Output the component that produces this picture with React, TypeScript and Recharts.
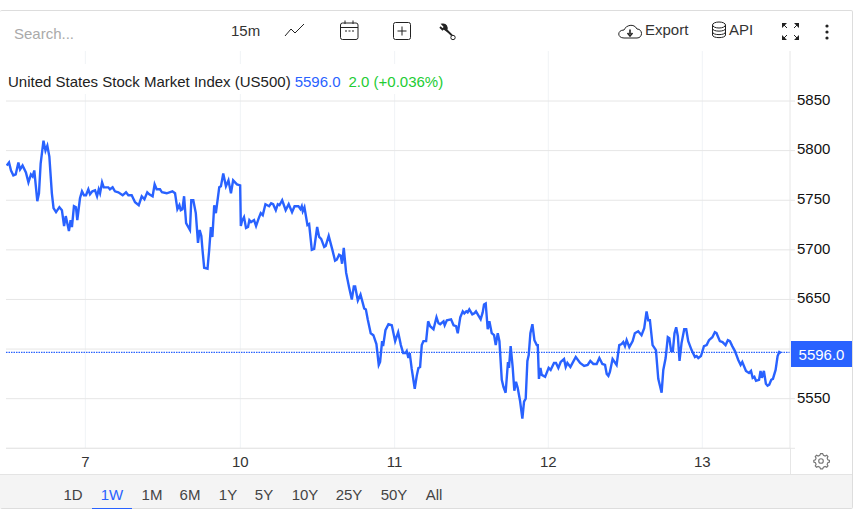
import React from "react";
import { LineChart, Line, XAxis, YAxis, CartesianGrid, ReferenceLine } from "recharts";

// Positions on the time axis are 15-minute bars counted from the start of the "7" session.
const sessionPrior: [number, number][] = [
  [-47,5785],[-45.6,5788],[-44.4,5780],[-43,5775],[-41.6,5776],[-40,5788],[-39,5781],[-37.5,5785],[-35.5,5778],[-34,5768],[-32.5,5776],[-31.5,5774],[-30.5,5780],[-28.7,5749],[-27.7,5757],[-26.7,5787],[-25,5810],[-23.8,5800],[-22.7,5805],[-21.5,5794],[-20,5757],[-19,5742],[-17.5,5738],[-15.5,5743],[-14,5740],[-12.7,5724],[-11.7,5734],[-9.8,5719],[-8.8,5730],[-8,5723],[-6.8,5744],[-5.6,5743],[-4.8,5730],[-3.2,5752],[-2,5759],[-0.8,5755],
];
const session7: [number, number][] = [
  [0.4,5755],[1.8,5761],[2.8,5756],[4.2,5759],[5.8,5760],[7,5754],[8,5761],[8.8,5757],[10,5768],[11,5763],[13.7,5763],[14.7,5761],[16.3,5763],[17.7,5759],[19.7,5758],[22.3,5755],[24.3,5758],[25.7,5755],[27.7,5755],[29.7,5748],[31.9,5745],[33.7,5754],[35.3,5751],[37,5758],[38.2,5756],[40.2,5754],[41.4,5766],[42.6,5761],[44.6,5761],[45.8,5758],[48.6,5757],[52,5759],[53.6,5757],[55,5741],[56.2,5745],[57,5740],[58,5741],[59,5754],[60.2,5727],[62.5,5720],[63.3,5750],[64.5,5750],[66,5737],[67.3,5707],[68.3,5720],[69.3,5714],[70,5700],[71,5682],[73,5681],[74,5700],[75,5723],[75.9,5713],[77,5745],[78,5737],[80,5763],[81,5764],[82.4,5777],[84,5764],[85.5,5770],[87,5757],[88.3,5770],[90.6,5766],
];
const session10: [number, number][] = [
  [92.5,5765],[92.9,5724],[93.6,5729],[94.8,5733],[96,5722],[97.2,5723],[98,5730],[99,5728],[100.8,5730],[102,5724],[103.4,5731],[104.8,5737],[106,5735],[107.6,5746],[109.8,5744],[111,5747],[112.2,5746],[113.8,5740],[115,5746],[116,5745],[117.6,5750],[119.7,5740],[121.5,5746],[123.5,5738],[125,5744],[127.3,5744],[128.5,5741],[129.3,5744],[129.9,5739],[130.9,5743],[132.7,5725],[133.7,5726],[135.3,5700],[136.7,5701],[138.5,5723],[139.7,5713],[140.9,5711],[142.7,5703],[143.6,5704],[145.4,5714],[147.6,5700],[149.2,5689],[150.2,5690],[151.6,5695],[152.6,5694],[153.4,5686],[154.4,5702],[155.8,5677],[157.6,5662],[159.2,5650],[160.4,5663],[161.2,5663],[162.8,5649],[164.4,5655],[166.6,5641],[167.6,5640],[168.7,5630],[170.5,5616],[172.1,5614],[173.9,5605],[175.3,5584],[176.1,5587],[177.3,5608],[177.9,5603],[179.3,5619],[181.1,5625],[183.1,5624],
];
const session11: [number, number][] = [
  [185.1,5608],[186.9,5617],[188.5,5604],[189.9,5596],[191.3,5596],[192,5598],[193,5591],[193.8,5596],[195,5580],[196.8,5560],[198,5573],[199,5581],[200,5582],[201,5604],[202,5608],[203.6,5608],[204.8,5628],[206,5623],[208,5620],[209.8,5632],[211,5626],[212,5625],[214,5628],[214.7,5624],[216,5629],[218.5,5630],[220,5624],[221.5,5623],[222.5,5616],[224,5632],[225.5,5638],[226.4,5636],[227.6,5638],[228.4,5637],[229.4,5640],[231.2,5635],[232.4,5636],[233.4,5638],[234.8,5634],[236.2,5630],[237.4,5637],[238.2,5645],[239.2,5646],[240.4,5620],[241.4,5628],[242.8,5616],[244.2,5614],[245.2,5604],[246.4,5616],[247.4,5608],[248.8,5569],[249.8,5562],[251.1,5556],[252.5,5587],[253.1,5581],[254.1,5603],[255.3,5582],[256.3,5558],[257.3,5567],[258.3,5561],[259.7,5548],[261.1,5530],[262.1,5547],[263.1,5550],[264.1,5588],[264.9,5594],[265.9,5616],[267.1,5625],[268.3,5609],[269.7,5604],[270.3,5604],[271,5570],[271.9,5581],[272.7,5574],[274.7,5572],
];
const session12: [number, number][] = [
  [276.8,5581],[278,5579],[280,5586],[281.2,5586],[282.6,5581],[284,5587],[286,5590],[287,5582],[288,5586],[289.8,5582],[293,5592],[295.6,5586],[298,5583],[300.1,5584],[301.7,5588],[303.5,5585],[305.5,5585],[307.1,5591],[308.9,5585],[310.5,5584],[311.5,5575],[312.5,5573],[313.4,5577],[315,5590],[317.4,5584],[319,5604],[320.4,5605],[321.4,5607],[322.4,5603],[323.4,5609],[325,5602],[327,5608],[328.3,5616],[330.3,5618],[332.3,5614],[333.9,5621],[335.3,5638],[336.3,5629],[337.3,5629],[338.9,5604],[340.9,5599],[342.3,5570],[344.3,5556],[345.3,5579],[346.7,5591],[348,5612],[348.9,5611],[350,5598],[351,5598],[352,5616],[353,5622],[354,5613],[355,5588],[356.2,5606],[357.8,5620],[359,5620],[360.2,5608],[362.2,5599],[364.2,5592],[365.2,5593],[366.2,5591],
];
const session13: [number, number][] = [
  [367.8,5593],[369.6,5603],[371.2,5604],[372.6,5609],[374.6,5612],[376.1,5617],[377.1,5616],[379.1,5608],[380.7,5607],[382.5,5604],[383.9,5609],[385.1,5608],[386.5,5603],[388.1,5598],[390.1,5589],[391.5,5584],[392.5,5587],[394.7,5578],[396.5,5576],[397.7,5578],[398.7,5571],[399.7,5572],[400.7,5568],[402.5,5569],[403.4,5578],[404.2,5571],[405.4,5578],[406.6,5565],[407.6,5563],[408.6,5564],[409.8,5569],[410.8,5570],[412.4,5579],[413.6,5593],[414.6,5597],[415.6,5596],
];

const dayTicks = [0, 92.6, 184.8, 276.6, 368.6];
const dayLabels = ["7", "10", "11", "12", "13"];
const priceTicks = [5500, 5550, 5600, 5650, 5700, 5750, 5800, 5850];
const hiddenPriceLabels = [5500, 5600];
const rangeLabels = ["1D", "1W", "1M", "6M", "1Y", "5Y", "10Y", "25Y", "50Y", "All"];
const lastPrice = 5596.0;

const rows = [...sessionPrior, ...session7, ...session10, ...session11, ...session12, ...session13].map(
  ([bar, price]) => ({ bar, price })
);

const FONT = '"Liberation Sans", Arial, sans-serif';
const BLUE = "#2962ff";
const rangeX = [73, 112, 152, 190, 228, 264, 305, 349, 394, 434];

const abs = (s: React.CSSProperties): React.CSSProperties => ({ position: "absolute", whiteSpace: "nowrap", ...s });

function Label({ x, y, children, color = "#333", size = 15 }: any) {
  return <span style={abs({ left: x, top: y, fontSize: size, color, lineHeight: "18px" })}>{children}</span>;
}

function Icons() {
  const s = { fill: "none", stroke: "#222", strokeWidth: 1 } as const;
  return (
    <svg width={862} height={516} style={{ position: "absolute", left: 0, top: 0, pointerEvents: "none" }}>
      <path d="M285 36 L291 29 L295 33 L304 24" {...s} />
      <rect x={340.5} y={23} width={17.5} height={16.5} rx={2} {...s} />
      <path d="M340.5 27.5 H358 M345 20.5 V24 M353 20.5 V24" {...s} />
      <path d="M345 31 h2 M348.5 31 h2 M352 31 h2" stroke="#222" strokeWidth={1.2} />
      <rect x={393.5} y={22.5} width={17} height={17} rx={2} {...s} />
      <path d="M402 26.5 V35.5 M397.5 31 H406.5" {...s} />
      <path d="M440 27 L442.500 29.500 L445 27 L442.500 24.500 C446 24 447.500 27 446.500 30 L452 35.500" fill="#222" stroke="#222" strokeWidth={1.8} />
      <circle cx={453} cy={37.5} r={2.2} fill="#fff" stroke="#222" strokeWidth={1} />
      <path d="M624 38 C617 38 617 30 624 30 C626 25 634 23 637 29 C643 29 643 38 637 38 Z" {...s} />
      <path d="M630 29.5 V34 M627.5 33 L630 36 L632.5 33" fill="none" stroke="#222" strokeWidth={1.6} />
      <ellipse cx={719} cy={25} rx={6.5} ry={3} {...s} />
      <path d="M712.5 25 V35 C712.5 38.5 725.5 38.5 725.5 35 V25 M712.5 28.5 C712.5 32 725.5 32 725.5 28.5 M712.5 32 C712.5 35.5 725.5 35.5 725.5 32" {...s} />
      <path d="M782 23 h5 l-5 5 z M799 23 h-5 l5 5 z M782 40 h5 l-5 -5 z M799 40 h-5 l5 -5 z" fill="#222" />
      <path d="M783 24 L787 28 M798 24 L794 28 M783 39 L787 35 M798 39 L794 35" {...s} />
      <circle cx={827} cy={26} r={1.6} fill="#222" />
      <circle cx={827} cy={32} r={1.6} fill="#222" />
      <circle cx={827} cy={38} r={1.6} fill="#222" />
      <g transform="translate(821 461) scale(0.82) translate(-821 -461)">
        <circle cx={821} cy={461} r={2.8} fill="none" stroke="#777" strokeWidth={1.4} />
        <path d="M821 453 l2 0 l1 2 l2 1 l2-1 l1.500 1.500 l-1 2 l0.800 2 l2 0.800 v2 l-2 0.800 l-0.800 2 l1 2 l-1.500 1.500 l-2-1 l-2 1 l-1 2 h-2.500 l-1-2 l-2-1 l-2 1 l-1.500-1.500 l1-2 l-0.800-2 l-2-0.800 v-2 l2-0.800 l0.800-2 l-1-2 l1.500-1.500 l2 1 l2-1 l1-2 z" fill="none" stroke="#777" strokeWidth={1.4} transform="translate(0 -1)" />
      </g>
    </svg>
  );
}

export default function App() {
  return (
    <div style={{ position: "absolute", left: 0, top: 0, width: 862, height: 516, background: "#fff", fontFamily: FONT, overflow: "hidden" }}>
      {/* card frame and range bar */}
      <div style={abs({ left: 0, top: 10, width: 853, height: 499, borderTop: "1px solid #dddddd", borderRight: "1px solid #dddddd", borderBottom: "1px solid #dddddd", boxSizing: "border-box", borderRadius: 2 })} />
      <div style={abs({ left: 0, top: 474, width: 852, height: 34, background: "#f4f4f4", borderTop: "1px solid #e4e4e4", boxSizing: "border-box" })} />

      <div style={{ position: "absolute", left: 0, top: 0 }}>
        <LineChart width={862} height={516} data={rows} margin={{ top: 51, right: 0, bottom: 41.7, left: 6 }}>
          <CartesianGrid stroke="#f0f3f6" strokeWidth={1} horizontal={false} syncWithTicks />
          <CartesianGrid stroke="#e6e6e6" strokeWidth={1} vertical={false} syncWithTicks />
          <XAxis
            dataKey="bar"
            type="number"
            domain={[-47.4, 421]}
            ticks={dayTicks}
            tickFormatter={(v: number) => dayLabels[dayTicks.indexOf(v)]}
            allowDataOverflow
            height={26}
            tickLine={false}
            axisLine={{ stroke: "#e6e6e6" }}
            tickMargin={2}
            interval={0}
            tick={{ fill: "#333", fontSize: 15, fontFamily: FONT }}
          />
          <YAxis
            orientation="right"
            type="number"
            width={72}
            domain={[5500, 5900.4]}
            ticks={priceTicks}
            interval={0}
            allowDataOverflow
            tickFormatter={(v: number) => (hiddenPriceLabels.includes(v) ? "" : String(v))}
            tickSize={5}
            tickMargin={2}
            axisLine={{ stroke: "#e6e6e6" }}
            tickLine={{ stroke: "#e6e6e6" }}
            tick={{ fill: "#111", fontSize: 15, fontFamily: FONT, textAnchor: "start", dy: -1.5 }}
          />
          <ReferenceLine y={lastPrice + 0.7} stroke={BLUE} strokeWidth={1.2} strokeDasharray="1.5 1" />
          <Line dataKey="price" type="linear" stroke={BLUE} strokeWidth={2.4} dot={false} isAnimationActive={false} />
        </LineChart>
      </div>

      {/* axis line continues down to the range bar */}
      <div style={abs({ left: 790, top: 448, width: 1, height: 26, background: "#e6e6e6" })} />

      {/* toolbar */}
      <Label x={14} y={25} color="#aaaaaa">Search...</Label>
      <Label x={231} y={22}>15m</Label>
      <Label x={645} y={21}>Export</Label>
      <Label x={729} y={21}>API</Label>
      <Icons />

      {/* title */}
      <div style={abs({ left: 0, top: 64, height: 30, background: "#fff", paddingLeft: 8, width: 452, boxSizing: "border-box", fontSize: 15, lineHeight: "36px" })}>
        <span style={{ color: "#222" }}>United States Stock Market Index (US500)</span>
        <span style={{ color: BLUE, marginLeft: 4 }}>{lastPrice.toFixed(1)}</span>
        <span style={{ color: "#22cc33", marginLeft: 8 }}>2.0 (+0.036%)</span>
      </div>

      {/* last price tag */}
      <div style={abs({ left: 791, top: 341, width: 61, height: 26, background: BLUE, color: "#fff", fontSize: 15, lineHeight: "27px", textAlign: "center" })}>
        {lastPrice.toFixed(1)}
      </div>

      {/* range selector */}
      {rangeLabels.map((r, i) => (
        <span key={r} style={abs({ left: rangeX[i] - 25, width: 50, textAlign: "center", top: 486, fontSize: 15, lineHeight: "18px", color: r === "1W" ? BLUE : "#444" })}>
          {r}
        </span>
      ))}
      <div style={abs({ left: 92, top: 508, width: 40, height: 1, background: BLUE })} />
    </div>
  );
}
